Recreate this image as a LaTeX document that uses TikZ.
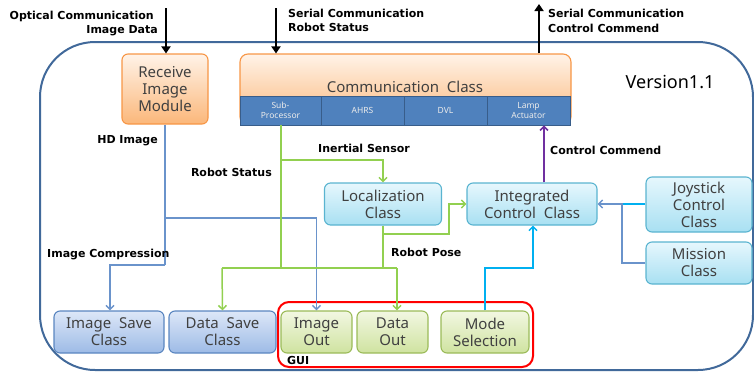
\documentclass[tikz,border=0pt]{standalone}
\usepackage{fontspec}
\setmainfont{Noto Sans}
\newfontfamily\lblfont{DejaVu Sans}[BoldFont={DejaVu Sans Bold}]
\usetikzlibrary{arrows.meta}
\definecolor{frameblue}{HTML}{41699A}
\definecolor{orbord}{HTML}{F79646}
\definecolor{ortop}{HTML}{FFF3E8}
\definecolor{orbot}{HTML}{FBB77A}
\definecolor{barblue}{HTML}{4F81BD}
\definecolor{bardark}{HTML}{385D8A}
\definecolor{cybord}{HTML}{5AB4D0}
\definecolor{cytop}{HTML}{E6F7FD}
\definecolor{cybot}{HTML}{A8E0F2}
\definecolor{bltop}{HTML}{DDE7F8}
\definecolor{blbot}{HTML}{9DBBE6}
\definecolor{blbord}{HTML}{5A86C0}
\definecolor{grtop}{HTML}{F2F7E2}
\definecolor{grbot}{HTML}{CFE3A0}
\definecolor{grbord}{HTML}{9BBB59}
\definecolor{lgreen}{HTML}{92D050}
\definecolor{lblue}{HTML}{6A93CB}
\definecolor{lcyan}{HTML}{00B0F0}
\definecolor{lpurple}{HTML}{7030A0}
\definecolor{boxtext}{HTML}{404040}
\tikzset{
  boxbase/.style={rounded corners=6pt, line width=1.1pt, align=center, inner sep=0pt,
    font=\fontsize{15}{17}\selectfont, text=boxtext},
  orbox/.style={boxbase, draw=orbord, top color=ortop, bottom color=orbot},
  cybox/.style={boxbase, draw=cybord, top color=cytop, bottom color=cybot},
  blbox/.style={boxbase, draw=blbord, top color=bltop, bottom color=blbot},
  grbox/.style={boxbase, draw=grbord, top color=grtop, bottom color=grbot},
  cell/.style={draw=bardark, fill=barblue, line width=0.8pt, inner sep=0pt, align=center,
    font=\fontsize{8.5}{9.5}\selectfont, text=white!92!black},
  lbl/.style={font=\lblfont\bfseries\fontsize{11}{13}\selectfont, inner sep=0pt, align=left},
  thin arrow/.style={-{Straight Barb[length=4pt,width=8pt]}, line width=1.5pt},
  big arrow/.style={-{Triangle[length=7pt,width=9pt]}, line width=2.6pt, black},
}
\begin{document}
\begin{tikzpicture}[x=1pt,y=-1pt]
\useasboundingbox (0,0) rectangle (754,372);
% outer frame
\draw[frameblue, line width=2pt, rounded corners=55pt] (40,42) rectangle (753,370);
% nodes
\node[orbox, minimum width=86pt, minimum height=70pt] (recv) at (165,89) {Receive\\Image\\Module};
\node[orbox, rounded corners=8pt, minimum width=331pt, minimum height=71pt] (comm) at (405.5,89.5) {};
\node[cell, minimum width=81pt, minimum height=29pt] (sub) at (280.5,110.5) {Sub-\\Processor};
\node[cell, minimum width=83pt, minimum height=29pt] (ahrs) at (362.5,110.5) {AHRS};
\node[cell, minimum width=83pt, minimum height=29pt] (dvl) at (445.5,110.5) {DVL};
\node[cell, minimum width=83pt, minimum height=29pt] (lamp) at (528.5,110.5) {Lamp\\Actuator};
\node[font=\fontsize{15}{17}\selectfont, text=boxtext, inner sep=0pt] (commlbl) at (405,87) {Communication\ \ Class};
\node[cybox, minimum width=117pt, minimum height=42pt] (loc) at (383,204) {Localization\\Class};
\node[cybox, minimum width=130pt, minimum height=42pt] (integ) at (532,204) {Integrated\\Control\ \ Class};
\node[cybox, minimum width=106pt, minimum height=55pt] (joy) at (699,204.5) {Joystick\\Control\\Class};
\node[cybox, minimum width=106pt, minimum height=42pt] (miss) at (699,263) {Mission\\Class};
\node[blbox, minimum width=110pt, minimum height=42pt] (isave) at (109,332) {Image\ \ Save\\Class};
\node[blbox, minimum width=107pt, minimum height=42pt] (dsave) at (222.5,332) {Data\ \ Save\\Class};
\node[grbox, minimum width=71pt, minimum height=42pt] (iout) at (316.5,332) {Image\\Out};
\node[grbox, minimum width=71pt, minimum height=42pt] (dout) at (392.5,332) {Data\\Out};
\node[grbox, minimum width=88pt, minimum height=42pt] (mode) at (485,332) {Mode\\Selection};
\node[draw=red, line width=2pt, rounded corners=11pt, minimum width=255pt, minimum height=65pt, inner sep=0pt] (gui) at (405.5,334.5) {};
\node[lbl, anchor=west] (guilbl) at (287,360) {GUI};
\node[font=\fontsize{18}{20}\selectfont, inner sep=0pt] (ver) at (670,82) {Version1.1};
% coordinates for top arrows
\coordinate (t1) at (166,8);
\coordinate (t2) at (276,8);
\coordinate (t3) at (539,4);
\draw[big arrow] (t1) -- (t1 |- recv.north);
\draw[big arrow] (t2) -- (t2 |- comm.north);
\draw[big arrow] (t3 |- comm.north) -- (t3);
% top labels
\node[lbl, anchor=east] (l1) at (154,16) {Optical Communication};
\node[lbl, anchor=east] (l2) at (158,31) {Image Data};
\node[lbl, anchor=west] (l3) at (288,13) {Serial Communication};
\node[lbl, anchor=west] (l4) at (288,27) {Robot Status};
\node[lbl, anchor=west] (l5) at (548,13) {Serial Communication};
\node[lbl, anchor=west] (l6) at (548,28) {Control Commend};
% blue image lines
\coordinate (b1) at (165,218);
\coordinate (b2) at (165,265);
\coordinate (b3) at (110,265);
\draw[lblue, line width=1.5pt] (recv.south) -- (b2);
\draw[lblue, thin arrow] (b2) -- (b3) -- (b3 |- isave.north);
\draw[lblue, thin arrow] (b1) -| (iout.north);
\node[lbl, anchor=east] (hd) at (158,141) {HD Image};
\node[lbl, anchor=west] (ic) at (47,255) {Image Compression};
% green lines
\coordinate (g1) at (281,160);
\coordinate (g2) at (281,268);
\coordinate (g3) at (222,268);
\coordinate (g4) at (397,268);
\coordinate (g5) at (383,234);
\coordinate (g6) at (449,234);
\coordinate (g7) at (449,204);
\draw[lgreen, line width=1.5pt] (sub.south -| g1) -- (g2);
\draw[lgreen, thin arrow] (g1) -| (loc.north);
\draw[lgreen, line width=1.5pt] (g3) -- (g4);
\draw[lgreen, thin arrow] (g3) -- (dsave.north);
\draw[lgreen, thin arrow] (g4) -- (g4 |- dout.north);
\draw[lgreen, line width=1.5pt] (loc.south) -- (loc.south |- g4);
\draw[lgreen, thin arrow] (g5) -- (g6) -- (g7) -- (integ.west);
\node[lbl, anchor=east] (rs) at (272,172) {Robot Status};
\node[lbl, anchor=west] (is) at (318,148) {Inertial Sensor};
\node[lbl, anchor=west] (rp) at (391,252) {Robot Pose};
% purple
\coordinate (p1) at (544,0);
\draw[lpurple, thin arrow] (integ.north -| p1) -- (lamp.south -| p1);
\node[lbl, anchor=west] (cc) at (550,150) {Control Commend};
% cyan mode
\coordinate (c1) at (485,268);
\coordinate (c2) at (533,268);
\draw[lcyan, thin arrow] (mode.north -| c1) -- (c1) -- (c2) -- (c2 |- integ.south);
% joystick / mission
\coordinate (j1) at (622,204);
\coordinate (j2) at (622,263);
\draw[lcyan, line width=1.5pt] (joy.west |- j1) -- (j1);
\draw[lblue, thin arrow] (miss.west) -- (j2) -- (j1) -- (integ.east);
\end{tikzpicture}
\end{document}
